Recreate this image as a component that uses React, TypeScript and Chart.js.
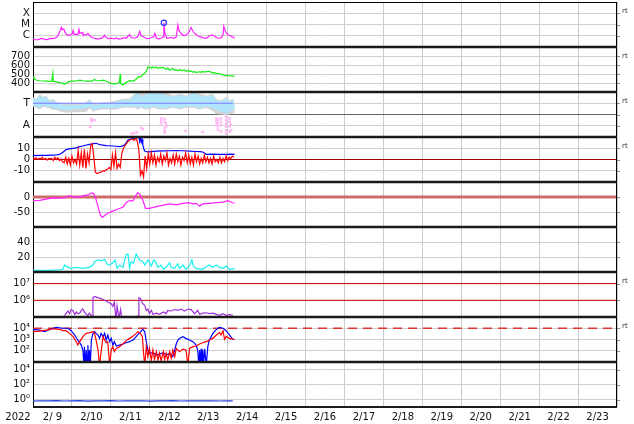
import React, { useEffect, useRef } from 'react';
import { Chart, registerables } from 'chart.js';

Chart.register(...registerables);

const FONT = "'DejaVu Sans', sans-serif";

// ---------- x axis (days since 2022-02-09 00:00) ----------
const dayLabels = ['2/ 9', '2/10', '2/11', '2/12', '2/13', '2/14', '2/15', '2/16', '2/17', '2/18', '2/19', '2/20', '2/21', '2/22', '2/23'];
const yearLabel = '2022';
const xMin = 0;
const xMax = 15;

// ---------- panel tick values / labels ----------
const xrayTickValues = [1e-4, 1e-5, 1e-6];
const xrayTickLabels = ['X', 'M', 'C'];
const speedTickValues = [700, 600, 500, 400];
const speedTickLabels = ['700', '600', '500', '400'];
const sectorTickValues = [3, 2, 1];
const sectorTickLabels = ['T', '', 'A'];
const imfTickValues = [10, 0, -10];
const imfTickLabels = ['10', '0', '-10'];
const dstTickValues = [0, -50];
const dstTickLabels = ['0', '-50'];
const cyanTickValues = [40, 20];
const cyanTickLabels = ['40', '20'];
const electronTickValues = [1e7, 1e6];
const electronTickLabels = ['10⁷', '10⁶'];
const protonTickValues = [1e4, 1e3, 1e2];
const protonTickLabels = ['10⁴', '10³', '10²'];
const bottomTickValues = [1e4, 1e2, 1e0];
const bottomTickLabels = ['10⁴', '10²', '10⁰'];

// ---------- X-ray flux ----------
const xrayTimes = [0.00, 0.07, 0.13, 0.20, 0.26, 0.32, 0.38, 0.45, 0.51, 0.60, 0.65, 0.70, 0.73, 0.75, 0.79, 0.82, 0.85, 0.90, 0.96, 1.01, 1.03, 1.06, 1.11, 1.15, 1.18, 1.20, 1.26, 1.28, 1.37, 1.41, 1.47, 1.52, 1.58, 1.65, 1.71, 1.78, 1.84, 1.88, 1.95, 2.01, 2.08, 2.14, 2.20, 2.27, 2.33, 2.39, 2.48, 2.52, 2.61, 2.69, 2.74, 2.78, 2.86, 2.92, 2.99, 3.05, 3.10, 3.13, 3.17, 3.23, 3.29, 3.34, 3.36, 3.39, 3.44, 3.50, 3.55, 3.62, 3.68, 3.72, 3.75, 3.81, 3.88, 3.94, 4.00, 4.06, 4.11, 4.17, 4.23, 4.32, 4.38, 4.45, 4.53, 4.60, 4.66, 4.75, 4.83, 4.88, 4.90, 4.94, 5.00, 5.09, 5.18];
const xrayFlux = [5e-7, 4.4e-7, 4.5e-7, 5.6e-7, 5.5e-7, 4.6e-7, 4.8e-7, 5.8e-7, 5.5e-7, 7e-7, 1.2e-6, 3e-6, 5.6e-6, 3.5e-6, 4e-6, 2.2e-6, 1.4e-6, 1.1e-6, 1.2e-6, 1.5e-6, 3e-6, 1.3e-6, 1.4e-6, 1.2e-6, 3.7e-6, 1.6e-6, 2e-6, 1.3e-6, 1.2e-6, 1.6e-6, 9e-7, 7e-7, 6e-7, 5e-7, 5.5e-7, 6.5e-7, 1.1e-6, 7e-7, 5.5e-7, 6e-7, 5.2e-7, 6.5e-7, 5e-7, 5.5e-7, 6.8e-7, 6e-7, 1.3e-6, 7e-7, 6e-7, 8e-7, 2.5e-6, 1e-6, 7.5e-7, 5.5e-7, 6e-7, 7e-7, 8e-7, 1.6e-6, 6e-7, 5.2e-7, 6e-7, 8e-7, 1.45e-5, 1.5e-6, 6e-7, 6.5e-7, 7e-7, 6e-7, 8e-7, 9e-6, 3e-6, 1.5e-6, 1e-6, 1.2e-6, 2e-6, 5.3e-6, 2.5e-6, 1.4e-6, 1e-6, 7.5e-7, 6.5e-7, 6e-7, 1e-6, 1.2e-6, 9e-7, 6e-7, 6.5e-7, 1.2e-6, 7e-6, 2.5e-6, 1.3e-6, 9e-7, 6e-7];
const flareTimes = [3.36];
const flareFlux = [1.45e-5];

// ---------- solar wind speed ----------
const speedTimes = [0.00, 0.02, 0.03, 0.08, 0.13, 0.17, 0.26, 0.34, 0.43, 0.48, 0.51, 0.52, 0.60, 0.68, 0.73, 0.77, 0.81, 0.85, 0.94, 1.03, 1.11, 1.20, 1.28, 1.37, 1.45, 1.50, 1.58, 1.62, 1.71, 1.80, 1.88, 1.97, 2.05, 2.09, 2.18, 2.22, 2.24, 2.25, 2.31, 2.39, 2.48, 2.57, 2.65, 2.69, 2.78, 2.82, 2.87, 2.91, 2.95, 2.99, 3.04, 3.08, 3.12, 3.17, 3.21, 3.25, 3.29, 3.35, 3.38, 3.42, 3.46, 3.51, 3.55, 3.59, 3.64, 3.68, 3.72, 3.76, 3.81, 3.85, 3.89, 3.93, 3.98, 4.02, 4.06, 4.11, 4.15, 4.19, 4.23, 4.28, 4.32, 4.36, 4.41, 4.45, 4.49, 4.53, 4.58, 4.62, 4.66, 4.71, 4.75, 4.79, 4.83, 4.88, 4.92, 4.96, 5.00, 5.05, 5.09, 5.13, 5.18];
const speedValues = [450, 478, 445, 433, 428, 425, 422, 420, 418, 420, 505, 418, 412, 405, 400, 398, 385, 400, 418, 420, 422, 432, 425, 420, 422, 418, 440, 428, 425, 432, 420, 400, 394, 388, 400, 405, 500, 395, 378, 405, 426, 422, 440, 465, 470, 495, 510, 528, 574, 580, 565, 578, 570, 575, 560, 572, 565, 575, 558, 552, 565, 544, 550, 560, 540, 545, 535, 550, 540, 538, 545, 530, 540, 528, 535, 520, 528, 515, 522, 525, 518, 528, 520, 530, 525, 530, 520, 510, 515, 505, 508, 500, 498, 492, 485, 480, 488, 478, 480, 476, 478];

// ---------- IMF sector (T / A) ----------
const bandTimes = [0.00, 0.08, 0.17, 0.26, 0.34, 0.43, 0.51, 0.60, 0.68, 0.77, 0.90, 1.03, 1.20, 1.37, 1.45, 1.54, 1.62, 1.80, 1.97, 2.14, 2.31, 2.48, 2.61, 2.69, 2.78, 2.87, 2.95, 3.08, 3.25, 3.42, 3.59, 3.76, 3.93, 4.11, 4.28, 4.45, 4.62, 4.71, 4.83, 4.96, 5.05, 5.13, 5.18];
const towardUpper = [3.44, 3.29, 3.73, 3.44, 3.59, 3.14, 3.29, 3.0, 3.0, 2.84, 2.84, 2.84, 2.84, 3.0, 3.29, 2.84, 2.84, 3.0, 3.0, 3.14, 3.29, 3.29, 3.73, 3.98, 3.59, 3.73, 3.88, 3.88, 3.88, 3.73, 3.59, 3.73, 3.59, 3.88, 3.73, 3.59, 3.73, 3.29, 3.14, 3.44, 3.14, 3.29, 3.0];
const towardLower = [2.84, 2.70, 2.55, 2.84, 2.70, 2.70, 2.55, 2.55, 2.46, 2.40, 2.40, 2.46, 2.46, 2.55, 2.70, 2.40, 2.46, 2.55, 2.55, 2.55, 2.70, 2.70, 2.70, 2.55, 2.70, 2.55, 2.55, 2.70, 2.55, 2.55, 2.70, 2.55, 2.70, 2.70, 2.55, 2.70, 2.55, 2.40, 2.25, 2.10, 2.25, 2.40, 2.40];
const grayUpper = [3.55, 3.4, 3.8, 3.55, 3.7, 3.25, 3.4, 3.1, 3.1, 2.95, 2.95, 2.95, 2.95, 3.1, 3.4, 2.95, 2.95, 3.1, 3.1, 3.25, 3.4, 3.4, 3.85, 3.98, 3.98, 3.98, 3.98, 3.98, 3.98, 3.98, 3.7, 3.85, 3.7, 3.98, 3.85, 3.7, 3.85, 3.4, 3.25, 3.55, 3.25, 3.4, 3.1];
const grayLower = [2.7, 2.6, 2.45, 2.7, 2.6, 2.55, 2.4, 2.4, 2.3, 2.2, 2.15, 2.2, 2.2, 2.25, 2.55, 2.25, 2.35, 2.45, 2.45, 2.45, 2.6, 2.6, 2.6, 2.45, 2.6, 2.45, 2.45, 2.6, 2.45, 2.45, 2.6, 2.45, 2.6, 2.6, 2.45, 2.6, 2.3, 2.05, 2.0, 1.95, 2.0, 2.1, 2.2];
const awayTimes = [1.47, 1.50, 1.50, 1.52, 1.58, 2.53, 2.60, 2.67, 2.78, 2.82, 3.29, 3.29, 3.29, 3.38, 3.38, 3.38, 3.38, 3.38, 3.42, 3.42, 3.92, 4.36, 4.71, 4.71, 4.71, 4.75, 4.75, 4.75, 4.75, 4.83, 4.83, 4.83, 4.83, 4.96, 4.96, 4.96, 4.96, 4.96, 4.96, 5.05, 5.05, 5.05, 5.05, 5.09, 5.09];
const awayValues = [0.9, 1.6, 1.4, 1.5, 1.5, 0.3, 0.35, 0.4, 0.8, 0.7, 1.65, 1.45, 1.2, 1.6, 1.35, 0.8, 0.55, 0.4, 0.95, 1.2, 0.55, 0.45, 1.65, 1.4, 1.1, 1.55, 1.25, 0.95, 0.65, 1.65, 1.35, 1.05, 0.5, 1.8, 1.5, 1.2, 0.9, 0.6, 0.3, 1.65, 1.35, 0.95, 0.5, 1.1, 0.6];
const towardLineLevel = 3;
const towardLineSpan = [0, 5.13];

// ---------- IMF Bt / Bz ----------
const btTimes = [0.00, 0.17, 0.34, 0.51, 0.60, 0.68, 0.77, 0.85, 0.94, 1.03, 1.11, 1.20, 1.28, 1.37, 1.45, 1.54, 1.62, 1.67, 1.75, 1.84, 1.88, 1.97, 2.05, 2.14, 2.22, 2.27, 2.35, 2.39, 2.44, 2.48, 2.57, 2.61, 2.65, 2.69, 2.72, 2.74, 2.76, 2.78, 2.80, 2.82, 2.85, 2.87, 2.95, 3.04, 3.17, 3.35, 3.51, 3.68, 3.85, 4.02, 4.19, 4.28, 4.36, 4.41, 4.45, 4.62, 4.79, 4.96, 5.09, 5.18];
const btValues = [3.4, 3.6, 3.7, 3.9, 4.0, 4.5, 6.5, 8.8, 9.5, 9.9, 10.3, 11.4, 12.0, 12.9, 13.5, 14.0, 14.4, 13.8, 13.0, 12.5, 12.3, 12.2, 12.0, 11.8, 11.4, 11.6, 12.9, 14.5, 17.3, 17.8, 18.8, 19.0, 19.6, 19.2, 19.8, 16.0, 19.5, 15.5, 18.0, 13.0, 9.0, 7.6, 6.7, 7.0, 7.4, 7.6, 7.8, 8.0, 7.8, 7.4, 7.1, 7.0, 6.7, 5.5, 4.6, 4.7, 4.5, 4.6, 4.7, 4.6];
const bzStart = 0;
const bzStep = 0.04;
const bzValues = [
  1, 0.5, 1.5, 0, 1, 0.5, 2, 0, 1, -0.5, 1, 0.5,
  1, -1, 2, 0, 1.5, -1, 0.5, -2,
  -3, 2, -4, 1, -5, 3, -3, 0, -4,
  8, -5, 6, -7, 9, -8, 5, -3, 12, 14, 3,
  -11, -12.5, -12, -11.5, -11, -10, -10.5, -9, -8.5, -7, -9,
  4, -6, 6, -8, -4, -7, 5, 10, 12, 14,
  16, 17, 18, 18, 17, 19, 16,
  8, -14, -10, -15.5, 3, -8, 5, -4,
  6, -3, 4, -5, 2, -2, 5, -4, 3, -1, 6, -5, 1, -3, 4, -4, 5, -2, 3, -5, 2, -1, 6, -3, 4, -4, 2, -5, 5, -2, 3, -4, 1, -3, 4, -2,
  2, -3, 1, -4, 3, -2, 0, -3, 2, -3, 1, -2, 3, -1, 2, 1, 3, 2,
];
const bzRefLevel = 0;

// ---------- Dst ----------
const dstTimes = [0.00, 0.17, 0.34, 0.51, 0.68, 0.81, 0.90, 1.03, 1.15, 1.28, 1.41, 1.50, 1.56, 1.61, 1.67, 1.73, 1.78, 1.84, 1.92, 2.05, 2.18, 2.31, 2.39, 2.48, 2.57, 2.63, 2.69, 2.74, 2.82, 2.89, 2.99, 3.17, 3.35, 3.51, 3.68, 3.85, 3.98, 4.11, 4.19, 4.28, 4.36, 4.53, 4.71, 4.88, 5.00, 5.13, 5.18];
const dstValues = [-12, -11, -7, -3, -4, -2, 4, 1, -1, 4, 7, 14, 12, -4, -32, -60, -68, -62, -54, -47, -40, -34, -19, -12, -13, 3, 14, 10, -10, -38, -38, -32, -27, -23, -26, -21, -19, -23, -21, -30, -23, -21, -19, -17, -12, -19, -21];
const dstRefLevel = 0;

// ---------- cyan index ----------
const cyanTimes = [0.00, 0.17, 0.34, 0.51, 0.68, 0.77, 0.81, 0.90, 0.98, 1.11, 1.28, 1.45, 1.54, 1.58, 1.67, 1.75, 1.84, 1.90, 1.97, 2.05, 2.11, 2.16, 2.22, 2.31, 2.39, 2.44, 2.48, 2.52, 2.58, 2.65, 2.69, 2.74, 2.82, 2.87, 2.95, 3.04, 3.10, 3.15, 3.21, 3.29, 3.35, 3.42, 3.51, 3.55, 3.64, 3.72, 3.76, 3.85, 3.93, 4.02, 4.08, 4.12, 4.19, 4.36, 4.45, 4.53, 4.62, 4.71, 4.79, 4.88, 4.96, 5.05, 5.18];
const cyanValues = [2.7, 2.2, 1.8, 2.4, 2.7, 3.6, 9.3, 6.2, 4.9, 6.2, 4.9, 6.2, 9.3, 13.8, 16, 15, 17, 10.7, 9.3, 12.4, 16, 4.9, 9.3, 6.2, 22.7, 24, 4.9, 13.8, 12, 24, 20.4, 16, 13.8, 9.3, 16, 8, 16, 13.8, 6.2, 9.3, 3.6, 6.2, 12.4, 6.2, 4.9, 11, 4.9, 9.3, 3.6, 8, 16, 8, 4.9, 3.6, 7, 9.3, 6.2, 9.3, 6.2, 4.9, 8, 3.6, 4.4];

// ---------- >2 MeV electrons ----------
const electronTimes = [0.81, 0.85, 0.90, 0.94, 0.98, 1.03, 1.07, 1.11, 1.15, 1.20, 1.24, 1.28, 1.32, 1.37, 1.41, 1.45, 1.50, 1.52, 1.54, 1.58, 1.67, 1.75, 1.84, 1.92, 2.01, 2.05, 2.09, 2.12, 2.14, 2.16, 2.18, 2.20, 2.22, 2.25, 2.27, 2.29, 2.35, 2.68, 2.70, 2.72, 2.76, 2.82, 2.87, 2.91, 2.95, 2.99, 3.04, 3.08, 3.17, 3.25, 3.35, 3.42, 3.46, 3.55, 3.64, 3.72, 3.81, 3.89, 3.98, 4.06, 4.15, 4.23, 4.28, 4.36, 4.45, 4.53, 4.62, 4.71, 4.79, 4.88, 4.96, 5.05, 5.13];
const electronFlux = [1.2e5, 1.7e5, 2.3e5, 1.6e5, 2.8e5, 2.3e5, 1.4e5, 2e5, 1.6e5, 1.7e5, 2.5e5, 3e5, 2e5, 1.45e5, 1.2e5, 1.7e5, 1.2e5, 1.1e5, 1.45e6, 1.74e6, 1.45e6, 1.26e6, 1e6, 7.9e5, 6.3e5, 4.4e5, 7.9e5, 1.2e5, 1.1e5, 4.4e5, 4.4e5, 1.1e5, 1.2e5, 2.8e5, 1.2e5, 1.1e5, null, 1.1e5, 1.2e5, 1.45e6, 1.3e6, 6.3e5, 5e5, 2.5e5, 3e5, 1.6e5, 2.5e5, 1.45e5, 1.7e5, 1.45e5, 2e5, 1.6e5, 2.5e5, 2.3e5, 2.8e5, 2.5e5, 3e5, 2.3e5, 3e5, 2.8e5, 1.6e5, 2.5e5, 1.45e5, 1.7e5, 1.8e5, 1.6e5, 1.7e5, 1.45e5, 1.26e5, 1.6e5, 1.26e5, 1.4e5, 1.26e5];
const electronAlertLevels = [1e7, 1e6];

// ---------- particle flux (blue, red) ----------
const pBlueTimes = [0.00, 0.17, 0.30, 0.43, 0.60, 0.77, 0.90, 0.98, 1.07, 1.15, 1.24, 1.28, 1.31, 1.32, 1.35, 1.37, 1.39, 1.41, 1.43, 1.45, 1.47, 1.50, 1.54, 1.58, 1.62, 1.67, 1.71, 1.75, 1.80, 1.84, 1.88, 1.92, 1.97, 2.01, 2.05, 2.09, 2.14, 2.22, 2.31, 2.39, 2.48, 2.57, 2.65, 2.74, 2.82, 2.87, 2.91, 2.95, 2.99, 3.08, 3.17, 3.25, 3.35, 3.42, 3.51, 3.59, 3.64, 3.68, 3.72, 3.76, 3.85, 3.93, 4.02, 4.11, 4.19, 4.23, 4.26, 4.28, 4.30, 4.32, 4.34, 4.36, 4.38, 4.41, 4.45, 4.49, 4.53, 4.62, 4.71, 4.79, 4.88, 4.96, 5.05, 5.13, 5.18];
const pBlueFlux = [7.9e3, 6.9e3, 5e3, 7.9e3, 1.2e4, 1e4, 1e4, 6.1e3, 2.5e3, 910, 320, 117, 5, 230, 5, 117, 5, 320, 5, 117, 5, 910, 3.5e3, 5e3, 3.5e3, 2.5e3, 1.26e3, 3.5e3, 1.8e3, 3.5e3, 910, 2.5e3, 640, 1.26e3, 320, 640, 265, 320, 400, 520, 640, 910, 1.8e3, 4.1e3, 7.9e3, 5e3, 640, 117, 59, 68, 42, 51, 68, 42, 59, 30, 117, 400, 910, 1.26e3, 1.8e3, 1.26e3, 910, 640, 320, 117, 5, 117, 5, 150, 5, 117, 5, 150, 5, 230, 910, 3.5e3, 7.9e3, 1.2e4, 1e4, 6.1e3, 2.5e3, 1.05e3, 1e3];
const pRedTimes = [0.00, 0.17, 0.34, 0.51, 0.68, 0.77, 0.85, 0.94, 1.03, 1.11, 1.15, 1.20, 1.28, 1.37, 1.45, 1.54, 1.58, 1.62, 1.67, 1.71, 1.75, 1.80, 1.84, 1.88, 1.92, 1.97, 2.01, 2.05, 2.09, 2.14, 2.22, 2.31, 2.39, 2.48, 2.57, 2.65, 2.69, 2.74, 2.81, 2.84, 2.87, 2.91, 2.95, 2.99, 3.04, 3.08, 3.12, 3.17, 3.21, 3.25, 3.29, 3.35, 3.38, 3.42, 3.46, 3.51, 3.55, 3.59, 3.64, 3.68, 3.76, 3.85, 3.93, 3.98, 4.02, 4.11, 4.19, 4.28, 4.36, 4.45, 4.53, 4.62, 4.71, 4.79, 4.83, 4.88, 4.92, 4.96, 5.05, 5.18];
const pRedFlux = [5e3, 5.5e3, 6.9e3, 9e3, 7.9e3, 6.1e3, 6.1e3, 3.5e3, 1.8e3, 640, 320, 640, 1.8e3, 3.5e3, 4.1e3, 5e3, 3.5e3, 910, 117, 5, 83, 1.8e3, 910, 520, 640, 5, 117, 230, 83, 162, 230, 400, 800, 1.26e3, 2e3, 3.5e3, 5e3, 4.1e3, 1.8e3, 59, 5, 230, 30, 160, 15, 117, 17, 83, 15, 59, 13, 83, 17, 59, 15, 83, 21, 117, 30, 162, 83, 140, 117, 5, 162, 230, 265, 400, 520, 640, 910, 1.26e3, 2.5e3, 4.1e3, 2.5e3, 6.1e3, 1.05e3, 1.8e3, 1.26e3, 1e3];
const protonAlertLevel = 1e4;

// ---------- bottom panel ----------
const bottomTimes = [0.0, 0.2, 0.4, 0.6, 0.8, 1.0, 1.2, 1.4, 1.6, 1.8, 2.0, 2.2, 2.4, 2.6, 2.8, 3.0, 3.2, 3.4, 3.6, 3.8, 4.0, 4.2, 4.4, 4.6, 4.8, 5.0, 5.13];
const bottomValues = [0.62, 0.68, 0.64, 0.7, 0.63, 0.66, 0.69, 0.62, 0.67, 0.65, 0.7, 0.63, 0.66, 0.64, 0.68, 0.62, 0.67, 0.65, 0.69, 0.63, 0.66, 0.64, 0.68, 0.65, 0.63, 0.66, 0.64];

const rtPanels = ['yX', 'yV', 'yT', 'yB', 'yE', 'yP'];
const panelOrder = ['yX', 'yV', 'yT', 'yB', 'yD', 'yK', 'yE', 'yP', 'yL'];

function pts(times: number[], values: (number | null)[]) {
  return times.map((t, i) => ({ x: t, y: values[i] }));
}
function hline(level: number, span: number[]) {
  return [{ x: span[0], y: level }, { x: span[1], y: level }];
}

function panelScale(weight: number, type: string, min: number, max: number, tickValues: number[], tickLabels: string[], extra: any = {}) {
  return {
    type,
    min,
    max,
    position: 'left',
    stack: 'panels',
    stackWeight: 1,
    weight,
    afterBuildTicks: (s: any) => { s.ticks = tickValues.map((v) => ({ value: v })); },
    afterFit: (s: any) => {
      s.width = 33;
      s.paddingTop = 0;
      s.paddingBottom = 0;
    },
    ticks: {
      autoSkip: false,
      padding: 3,
      color: '#111',
      font: { family: FONT, size: extra.fontSize || 10 },
      callback: (_v: any, i: number) => tickLabels[i],
    },
    grid: { color: extra.gridColor || '#cfcfcf', drawTicks: false, lineWidth: 1 },
    border: { display: true, color: '#000', width: 1 },
  };
}

const framePlugin = {
  id: 'frame',
  afterDraw(chart: any) {
    const ctx = chart.ctx;
    const { left, right, top, bottom } = chart.chartArea;
    ctx.save();
    const line = (x1: number, y1: number, x2: number, y2: number, w: number, c: string) => {
      ctx.beginPath();
      ctx.strokeStyle = c;
      ctx.lineWidth = w;
      ctx.moveTo(x1, y1);
      ctx.lineTo(x2, y2);
      ctx.stroke();
    };
    panelOrder.forEach((id) => {
      const s = chart.scales[id];
      s.ticks.forEach((t: any) => {
        const y = Math.round(s.getPixelForValue(t.value)) + 0.5;
        line(right, y, right + 3, y, 1, '#888');
      });
    });
    line(right - 0.5, top, right - 0.5, bottom, 1, '#000');
    line(left, top + 0.5, right, top + 0.5, 1, '#000');
    panelOrder.slice(1).forEach((id) => {
      const s = chart.scales[id];
      line(left, s.top, right, s.top, 2.6, '#1a1a1a');
    });
    line(left, bottom, right, bottom, 2, '#1a1a1a');
    ctx.fillStyle = '#333';
    ctx.font = `7px ${FONT}`;
    ctx.textBaseline = 'middle';
    ctx.textAlign = 'left';
    rtPanels.forEach((id) => {
      const s = chart.scales[id];
      ctx.fillText('rt', right + 5, s.top + 9.5);
    });
    ctx.fillStyle = '#111';
    ctx.font = `10px ${FONT}`;
    ctx.textAlign = 'center';
    ctx.fillText(yearLabel, 18, bottom + 10);
    ctx.restore();
  },
};

export default function App() {
  const ref = useRef<HTMLCanvasElement>(null);
  useEffect(() => {
    document.body.style.margin = '0';
    const line = (data: any[], yAxisID: string, color: string, extra: any = {}) => ({
      type: 'line',
      data,
      yAxisID,
      xAxisID: 'x',
      borderColor: color,
      backgroundColor: color,
      borderWidth: 1.2,
      pointRadius: 0,
      tension: 0,
      spanGaps: false,
      clip: 0,
      ...extra,
    });
    const bzTimes = bzValues.map((_v, i) => bzStart + i * bzStep);
    const datasets: any[] = [
      line(pts(xrayTimes, xrayFlux), 'yX', '#ff22ff', { order: 5 }),
      line(pts(flareTimes, flareFlux), 'yX', '#2233ff', { showLine: false, pointRadius: 2.6, pointBorderWidth: 1.2, pointBackgroundColor: 'rgba(0,0,0,0)', pointBorderColor: '#2233ff', order: 1, clip: 4 }),
      line(pts(speedTimes, speedValues), 'yV', '#11ee11', { order: 5 }),
      line(pts(bandTimes, grayUpper), 'yT', '#d4d4d4', { borderWidth: 0, fill: '+1', backgroundColor: '#d4d4d4', order: 9 }),
      line(pts(bandTimes, grayLower), 'yT', '#d4d4d4', { borderWidth: 0, order: 9 }),
      line(pts(bandTimes, towardUpper), 'yT', '#b0e5fb', { borderWidth: 0, fill: '+1', backgroundColor: '#b0e5fb', order: 8 }),
      line(pts(bandTimes, towardLower), 'yT', '#b0e5fb', { borderWidth: 0, order: 8 }),
      line(hline(towardLineLevel, towardLineSpan), 'yT', '#7b7bff', { borderWidth: 1.2, order: 1 }),
      line(pts(awayTimes, awayValues), 'yT', '#ffb8f2', { showLine: false, pointRadius: 1.8, pointStyle: 'rect', pointBorderWidth: 0, pointBackgroundColor: '#ffb8f2', order: 2 }),
      line(hline(bzRefLevel, [xMin, xMax]), 'yB', '#990000', { borderWidth: 1, order: 10 }),
      line(pts(btTimes, btValues), 'yB', '#0000ff', { order: 5 }),
      line(pts(bzTimes, bzValues), 'yB', '#ff0000', { order: 4 }),
      line(hline(dstRefLevel, [xMin, xMax]), 'yD', '#cc6b6b', { borderWidth: 3, order: 10 }),
      line(pts(dstTimes, dstValues), 'yD', '#ff22ff', { order: 5 }),
      line(pts(cyanTimes, cyanValues), 'yK', '#19f0f0', { order: 5 }),
      line(hline(electronAlertLevels[0], [xMin, xMax]), 'yE', '#cc0000', { borderWidth: 1, order: 10 }),
      line(hline(electronAlertLevels[1], [xMin, xMax]), 'yE', '#cc0000', { borderWidth: 1, order: 10 }),
      line(pts(electronTimes, electronFlux), 'yE', '#a030d8', { order: 5 }),
      line(hline(protonAlertLevel, [xMin, xMax]), 'yP', '#dd3333', { borderWidth: 1.5, borderDash: [9, 6], order: 10 }),
      line(pts(pBlueTimes, pBlueFlux), 'yP', '#0000ff', { order: 5 }),
      line(pts(pRedTimes, pRedFlux), 'yP', '#ff0000', { order: 4 }),
      line(pts(bottomTimes, bottomValues), 'yL', '#2040e0', { order: 5 }),
    ];

    const chart = new Chart(ref.current as HTMLCanvasElement, {
      type: 'line',
      data: { datasets },
      plugins: [framePlugin],
      options: {
        animation: false,
        responsive: false,
        events: [],
        layout: { autoPadding: false, padding: { top: 2, right: 17, bottom: 0, left: 0 } },
        plugins: { legend: { display: false }, tooltip: { enabled: false } },
        scales: {
          x: {
            type: 'linear',
            min: xMin,
            max: xMax,
            position: 'bottom',
            afterBuildTicks: (s: any) => {
              const t: any[] = [];
              for (let i = 0; i <= dayLabels.length; i++) {
                t.push({ value: i });
                if (i < dayLabels.length) t.push({ value: i + 0.5 });
              }
              s.ticks = t;
            },
            afterFit: (s: any) => {
              s.height = 17;
              s.paddingLeft = 0;
              s.paddingRight = 0;
            },
            grid: {
              color: (c: any) => (c.tick && Number.isInteger(c.tick.value) ? '#cccccc' : 'rgba(0,0,0,0)'),
              drawTicks: false,
              lineWidth: 1,
            },
            border: { display: false },
            ticks: {
              autoSkip: false,
              maxRotation: 0,
              minRotation: 0,
              padding: 4,
              color: '#111',
              font: { family: FONT, size: 10 },
              callback: (v: any) => {
                const n = Number(v);
                if (Number.isInteger(n)) return '';
                return dayLabels[Math.floor(n)];
              },
            },
          },
          yX: panelScale(9, 'logarithmic', 1e-7, 1e-3, xrayTickValues, xrayTickLabels, { fontSize: 10.5 }),
          yV: panelScale(8, 'linear', 300, 800, speedTickValues, speedTickLabels),
          yT: panelScale(7, 'linear', 0, 4, sectorTickValues, sectorTickLabels, {
            fontSize: 10.5,
            gridColor: (c: any) => (c.tick && c.tick.value === 2 ? '#666666' : '#cfcfcf'),
          }),
          yB: panelScale(6, 'linear', -20, 20, imfTickValues, imfTickLabels),
          yD: panelScale(5, 'linear', -100, 50, dstTickValues, dstTickLabels),
          yK: panelScale(4, 'linear', 0, 60, cyanTickValues, cyanTickLabels),
          yE: panelScale(3, 'logarithmic', 1e5, 5e7, electronTickValues, electronTickLabels),
          yP: panelScale(2, 'logarithmic', 1e1, 1e5, protonTickValues, protonTickLabels),
          yL: panelScale(1, 'logarithmic', 1e-1, 1e5, bottomTickValues, bottomTickLabels),
        } as any,
      },
    } as any);
    return () => chart.destroy();
  }, []);
  return (
    <div style={{ position: 'absolute', left: 0, top: 0, width: 634, height: 424 }}>
      <canvas ref={ref} width={634} height={424} style={{ display: 'block', width: 634, height: 424 }} />
    </div>
  );
}
